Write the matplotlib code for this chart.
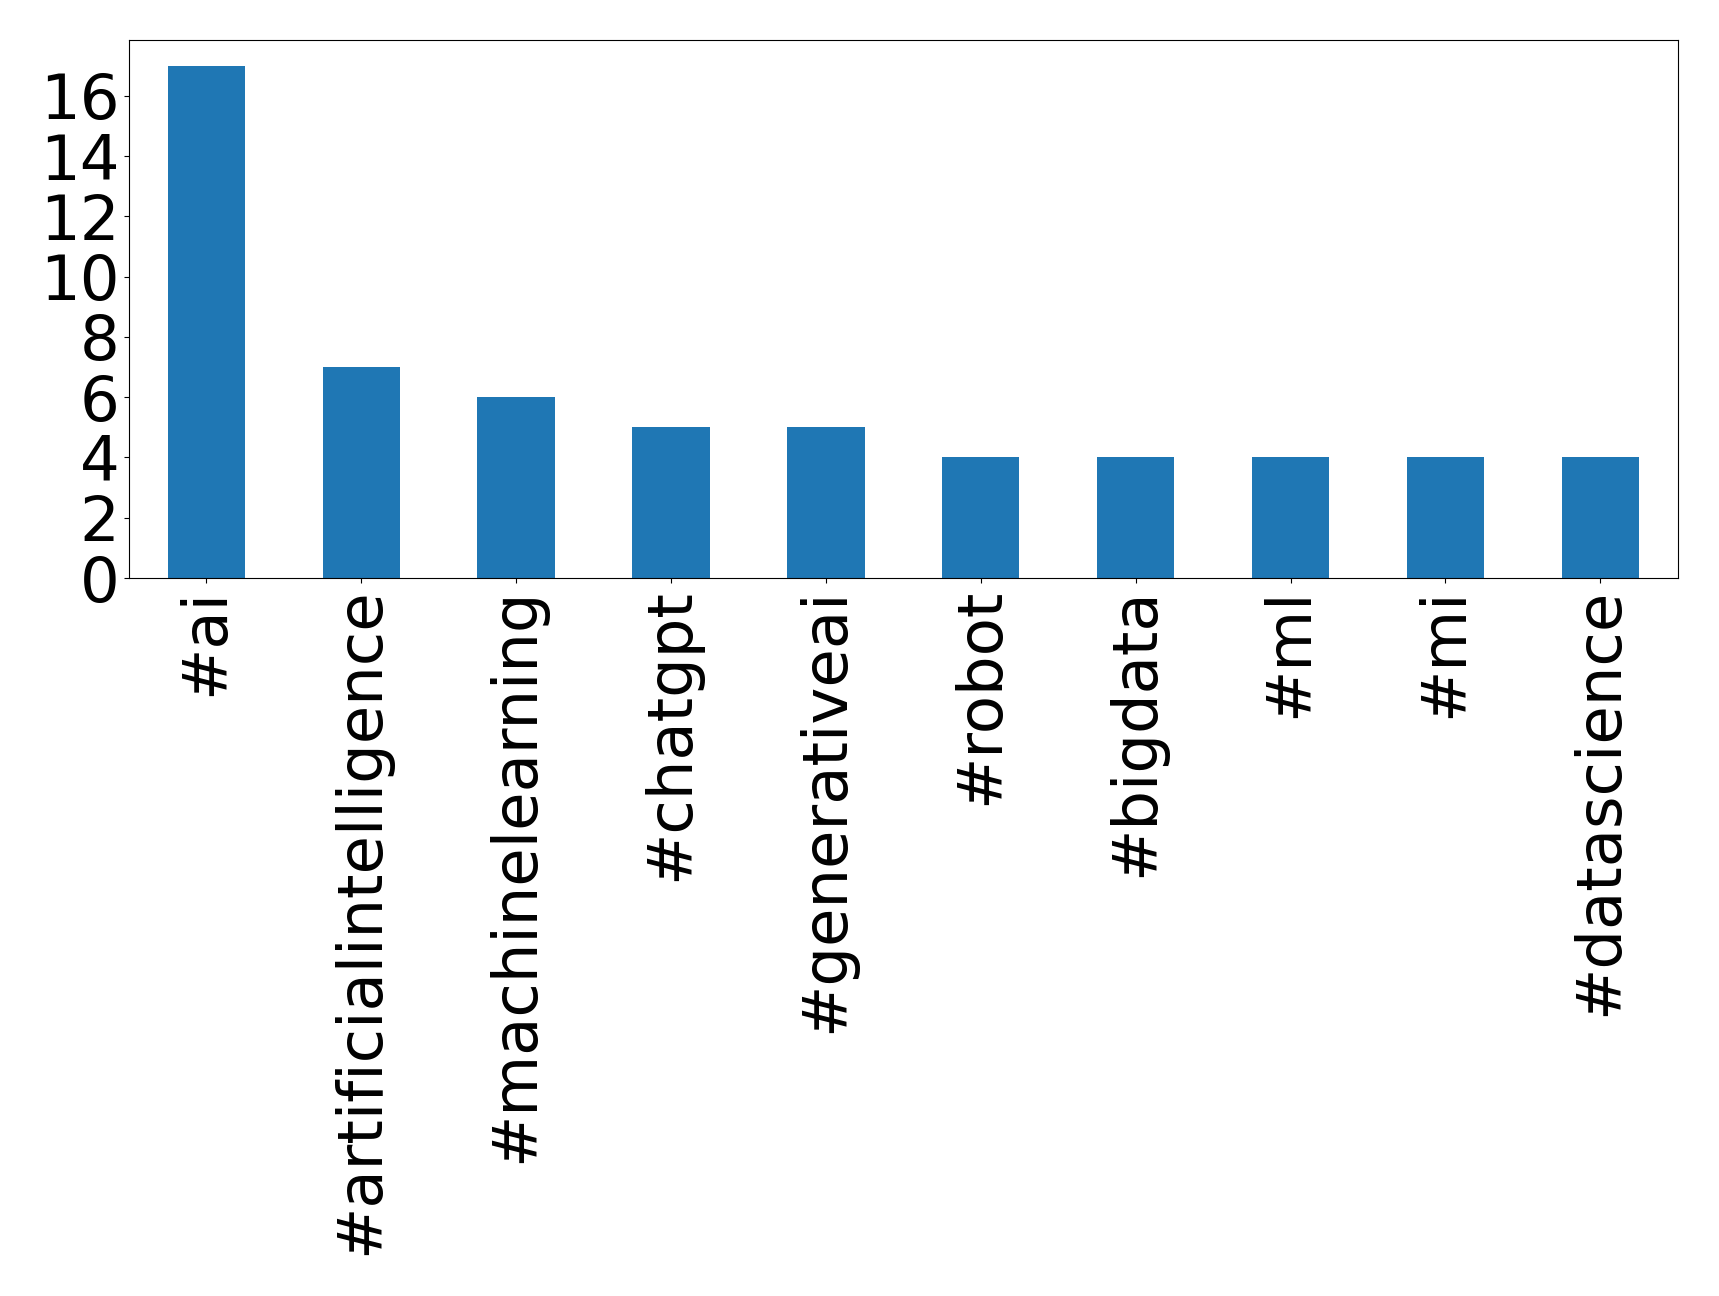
import pandas as pd
import matplotlib
matplotlib.use('Agg')
import matplotlib.pyplot as plt

# Топ хэштегов
hashtags = ['#ai', '#artificialintelligence', '#machinelearning', '#chatgpt',
            '#generativeai', '#robot', '#bigdata', '#ml', '#mi', '#datascience']
counts = [17, 7, 6, 5, 5, 4, 4, 4, 4, 4]

s = pd.Series(counts, index=hashtags)

fig = plt.figure(figsize=(17.19, 12.96), dpi=100)
ax = fig.add_axes([0.075, 0.554, 0.901, 0.415])
s.plot(kind='bar', ax=ax, fontsize=45)
ax.set_yticks(range(0, 17, 2))

fig.savefig('out.png', dpi=100)
